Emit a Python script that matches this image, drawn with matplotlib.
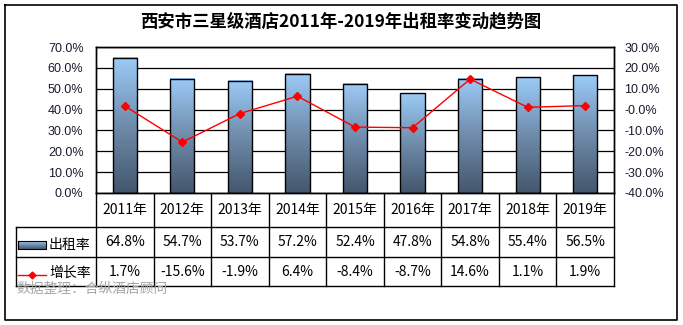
import numpy as np
import matplotlib
matplotlib.use("Agg")
import matplotlib.pyplot as plt
from matplotlib.colors import LinearSegmentedColormap
from matplotlib.ticker import FuncFormatter
from matplotlib import transforms

plt.rcParams['font.family'] = ['Noto Sans CJK SC', 'DejaVu Sans']

years = ['2011年', '2012年', '2013年', '2014年', '2015年', '2016年', '2017年', '2018年', '2019年']
occupancy = [64.8, 54.7, 53.7, 57.2, 52.4, 47.8, 54.8, 55.4, 56.5]
growth = [1.7, -15.6, -1.9, 6.4, -8.4, -8.7, 14.6, 1.1, 1.9]
occ_labels = ['64.8%', '54.7%', '53.7%', '57.2%', '52.4%', '47.8%', '54.8%', '55.4%', '56.5%']
growth_labels = ['1.7%', '-15.6%', '-1.9%', '6.4%', '-8.4%', '-8.7%', '14.6%', '1.1%', '1.9%']
series_names = ['出租率', '增长率']
title = '西安市三星级酒店2011年-2019年出租率变动趋势图'
source = '数据整理：合纵酒店顾问'

W, H = 683, 325
fig = plt.figure(figsize=(W / 100, H / 100), dpi=100)

# overlay in pixel coordinates
ov = fig.add_axes([0, 0, 1, 1], zorder=0)
ov.set_xlim(0, W)
ov.set_ylim(H, 0)
ov.axis('off')

cmap = LinearSegmentedColormap.from_list('g', ['#43566d', '#6f8cab', '#9ccbf8'])
grad = np.linspace(1, 0, 256).reshape(-1, 1)

L, R, T, B = 96, 614, 47, 193
ax = fig.add_axes([L / W, 1 - B / H, (R - L) / W, (B - T) / H], zorder=2)
ax.set_facecolor('white')
n = len(years)
x = np.arange(n)
bw = 0.42
for xi, v in zip(x, occupancy):
    ax.imshow(grad, extent=[xi - bw / 2, xi + bw / 2, 0, v / 100], aspect='auto',
              cmap=cmap, origin='upper', zorder=2, interpolation='bilinear')
ax.bar(x, np.array(occupancy) / 100, bw, fill=False, edgecolor='black', linewidth=1.0, zorder=3)
ax.set_xlim(-0.5, n - 0.5)
ax.set_ylim(0, 0.7)
ax.set_yticks(np.arange(0, 0.701, 0.1))
ax.yaxis.set_major_formatter(FuncFormatter(lambda v, p: f'{v * 100:.1f}%'))
ax.set_xticks([])
ax.grid(axis='y', color='black', linewidth=0.9)
ax.set_axisbelow(True)
for s in ax.spines.values():
    s.set_color('black')
    s.set_linewidth(1.0)
ax.tick_params(axis='y', length=0, pad=9)

ax2 = ax.twinx()
ax2.plot(x, np.array(growth) / 100, color='red', linewidth=1.0, marker='D', markersize=4.5, zorder=4)
ax2.set_ylim(-0.4, 0.3)
ax2.set_yticks(np.arange(-0.4, 0.301, 0.1))
ax2.yaxis.set_major_formatter(FuncFormatter(lambda v, p: f'{v * 100:.1f}%'))
ax2.tick_params(axis='y', length=0, pad=7.5)
for s in ax2.spines.values():
    s.set_color('black')
    s.set_linewidth(1.0)

for a in (ax, ax2):
    for lab in a.get_yticklabels():
        lab.set_fontfamily('Liberation Sans')
        lab.set_fontsize(9)
        lab.set_color('#1a1a2e')

# outer border
ov.plot([5, 677, 677, 5, 5], [5, 5, 320, 320, 5], color='black', linewidth=1.2)

# title
ov.text(341, 21, title, ha='center', va='center', fontsize=12.5, fontweight='bold')

# table
tr = transforms.blended_transform_factory(ax.transData, ov.transData)
y0, y1, y2, y3 = 193, 227, 257, 286
lx = 16
for yy in (y1, y2, y3):
    ov.plot([lx, R], [yy, yy], color='black', linewidth=1.0)
ov.plot([lx, lx], [y1, y3], color='black', linewidth=1.0)
for i in range(n + 1):
    ov.plot([i - 0.5, i - 0.5], [y0, y3], color='black', linewidth=1.0, transform=tr)
for i in range(n):
    ov.text(i, (y0 + y1) / 2, years[i], ha='center', va='center', fontsize=10, transform=tr)
    ov.text(i, (y1 + y2) / 2, occ_labels[i], ha='center', va='center', fontsize=10, transform=tr)
    ov.text(i, (y2 + y3) / 2, growth_labels[i], ha='center', va='center', fontsize=10, transform=tr)

# legend keys
ov.imshow(grad, extent=[18, 46, 249, 241], aspect='auto', cmap=cmap, origin='upper',
          interpolation='bilinear', zorder=2)
ov.plot([18, 46, 46, 18, 18], [241, 241, 249, 249, 241], color='black', linewidth=0.8, zorder=3)
ov.text(49, 245, series_names[0], ha='left', va='center', fontsize=10)
ov.plot([18, 46], [275, 275], color='red', linewidth=1.0)
ov.plot([32], [275], color='red', marker='D', markersize=3.5)
ov.text(49, 273, series_names[1], ha='left', va='center', fontsize=10)

# source
ov.text(17, 289, source, ha='left', va='center', fontsize=9.9, color='#a6a6a6', zorder=5)

ov.set_xlim(0, W)
ov.set_ylim(H, 0)

fig.savefig('out.png', dpi=100)
